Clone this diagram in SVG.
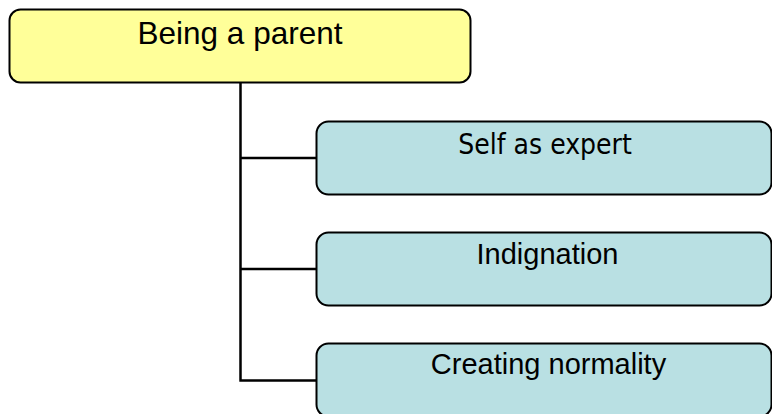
<svg xmlns="http://www.w3.org/2000/svg" width="772" height="414" viewBox="0 0 772 414">
<style>
.box{stroke:#000;stroke-width:2}
.parent{fill:#FFFF99}
.child{fill:#B9E0E3}
.lbl{font-family:"Liberation Sans",Arial,sans-serif;font-size:29px;fill:#000;text-anchor:middle}
.big{font-size:31.5px}
.dv{font-family:"DejaVu Sans Condensed","DejaVu Sans",sans-serif;font-stretch:condensed;font-size:28px}
.conn{fill:none;stroke:#000;stroke-width:2.5}
</style>
<rect width="772" height="414" fill="#fff"/>
<g id="connectors">
<path class="conn" d="M240.5 83 V380.5 M240.5 158 H317 M240.5 269 H317 M239.3 380.5 H317"/>
</g>
<g id="being-a-parent">
<rect class="box parent" x="9.5" y="9.5" width="461" height="73" rx="11"/>
<text class="lbl big" x="240" y="44">Being a parent</text>
</g>
<g id="self-as-expert">
<rect class="box child" x="316.5" y="121.5" width="455" height="73" rx="12"/>
<text class="lbl dv" x="545" y="153.5">Self as expert</text>
</g>
<g id="indignation">
<rect class="box child" x="316.5" y="232.5" width="455" height="73" rx="12"/>
<text class="lbl" x="547.5" y="263.5">Indignation</text>
</g>
<g id="creating-normality">
<rect class="box child" x="316.5" y="343.5" width="455" height="73" rx="12"/>
<text class="lbl" x="548.5" y="374">Creating normality</text>
</g>
</svg>
